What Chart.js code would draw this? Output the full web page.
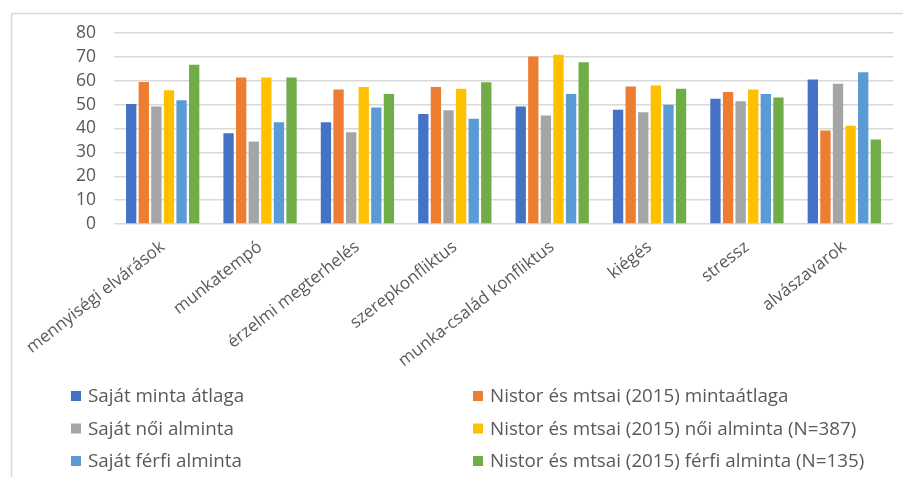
<!DOCTYPE html>
<html>
<head>
<meta charset="utf-8">
<script src="https://cdn.jsdelivr.net/npm/chart.js@4.4.1/dist/chart.umd.min.js"></script>
<style>
  html, body { margin: 0; padding: 0; background: #fff; }
  #wrap { position: relative; width: 903px; height: 477px; }
</style>
</head>
<body>
<div id="wrap"><canvas id="myChart"></canvas></div>
<script>
// kategóriák (x tengely)
const kategoriak = [
  "mennyiségi elvárások",
  "munkatempó",
  "érzelmi megterhelés",
  "szerepkonfliktus",
  "munka-család konfliktus",
  "kiégés",
  "stressz",
  "alvászavarok"
];

// sorozatok neve
const sorozatNevek = [
  "Saját minta átlaga",
  "Nistor és mtsai (2015) mintaátlaga",
  "Saját női alminta",
  "Nistor és mtsai (2015) női alminta (N=387)",
  "Saját férfi alminta",
  "Nistor és mtsai (2015) férfi alminta (N=135)"
];

// értékek sorozatonként
const sajatAtlag     = [50.3, 38.0, 42.6, 46.1, 49.2, 47.9, 52.5, 60.5];
const nistorAtlag    = [59.5, 61.4, 56.3, 57.4, 70.2, 57.6, 55.3, 39.2];
const sajatNoi       = [49.2, 34.5, 38.4, 47.6, 45.4, 46.8, 51.4, 58.7];
const nistorNoi      = [56.0, 61.4, 57.4, 56.7, 70.9, 58.0, 56.3, 41.1];
const sajatFerfi     = [51.8, 42.6, 48.8, 44.1, 54.4, 49.9, 54.4, 63.6];
const nistorFerfi    = [66.7, 61.4, 54.5, 59.4, 67.8, 56.7, 53.0, 35.4];

// y tengely
const yMin = 0;
const yMax = 80;
const yLepes = 10;

const szinek = ["#4472C4", "#ED7D31", "#A5A5A5", "#FFC000", "#5B9BD5", "#70AD47"];
const ertekek = [sajatAtlag, nistorAtlag, sajatNoi, nistorNoi, sajatFerfi, nistorFerfi];

const szovegSzin = "#595959";
const betu = "'Open Sans', sans-serif";

// keret a diagram körül (bal és felső éle látszik)
const keret = {
  id: "keret",
  beforeDraw(chart) {
    const ctx = chart.ctx;
    ctx.save();
    ctx.strokeStyle = "#d9d9d9";
    ctx.lineWidth = 1.5;
    ctx.beginPath();
    ctx.moveTo(11.5, 477);
    ctx.lineTo(11.5, 13.5);
    ctx.lineTo(903, 13.5);
    ctx.stroke();
    ctx.restore();
  }
};

// jelmagyarázat két oszlopban, alul
const jelmagyarazat = {
  id: "jelmagyarazat",
  afterDraw(chart) {
    const ctx = chart.ctx;
    const oszlopX = [71, 473];
    const sorY = [396, 428.5, 461];
    ctx.save();
    ctx.font = "18.8px " + betu;
    ctx.textBaseline = "middle";
    ctx.textAlign = "left";
    chart.data.datasets.forEach((ds, i) => {
      const x = oszlopX[i % 2];
      const y = sorY[Math.floor(i / 2)];
      ctx.fillStyle = ds.backgroundColor;
      ctx.fillRect(x, y - 5, 10, 10);
      ctx.fillStyle = szovegSzin;
      ctx.fillText(ds.label, x + 17, y + 1);
    });
    ctx.restore();
  }
};

const ctx = document.getElementById("myChart").getContext("2d");
const myChart = new Chart(ctx, {
  type: "bar",
  data: {
    labels: kategoriak,
    datasets: sorozatNevek.map((nev, i) => ({
      label: nev,
      data: ertekek[i],
      backgroundColor: szinek[i],
      borderWidth: 0,
      barPercentage: 0.82,
      categoryPercentage: 0.776
    }))
  },
  options: {
    responsive: true,
    maintainAspectRatio: false,
    animation: false,
    layout: { padding: { left: 10, right: 10, top: 33, bottom: 0 } },
    plugins: {
      legend: { display: false },
      tooltip: { enabled: false }
    },
    scales: {
      x: {
        grid: { display: false },
        border: { display: false },
        ticks: {
          color: szovegSzin,
          font: { family: betu, size: 17 },
          minRotation: 38,
          maxRotation: 38,
          autoSkip: false,
          padding: 5
        },
        afterFit(s) { s.height = 477 - 224; }
      },
      y: {
        min: yMin,
        max: yMax,
        grid: { color: "#d9d9d9", lineWidth: 1.5, drawTicks: false },
        border: { display: false },
        ticks: {
          stepSize: yLepes,
          autoSkip: false,
          color: szovegSzin,
          font: { family: betu, size: 17.5 },
          padding: 18
        },
        afterFit(s) { s.width = 104; }
      }
    }
  },
  plugins: [keret, jelmagyarazat]
});
</script>
</body>
</html>
